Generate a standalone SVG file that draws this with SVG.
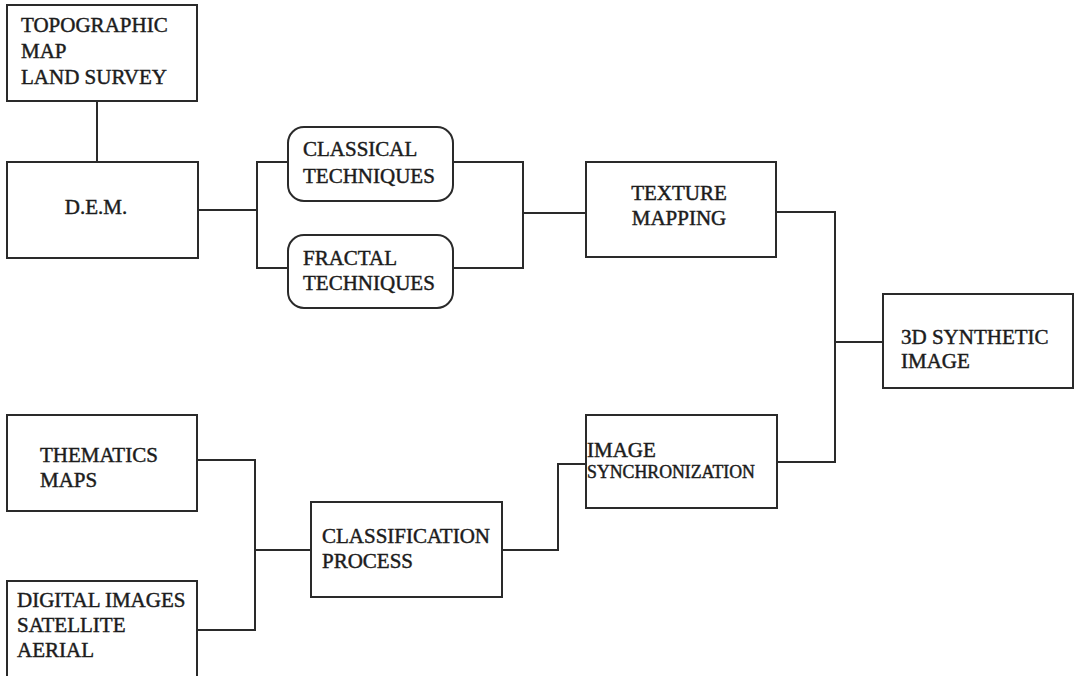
<svg xmlns="http://www.w3.org/2000/svg" width="1076" height="676" viewBox="0 0 1076 676">
<style>
.box{fill:none;stroke:#2a2a2a;stroke-width:2}
.wire{fill:none;stroke:#2a2a2a;stroke-width:2}
text{font-family:"Liberation Serif","Times New Roman",serif;font-size:21px;fill:#1c1c1c;stroke:#1c1c1c;stroke-width:0.45}
.small{font-size:17.8px}
.c{text-anchor:middle}
</style>
<rect width="1076" height="676" fill="#ffffff"/>
<g id="connectors">
<line class="wire" x1="97" y1="101" x2="97" y2="162"/>
<polyline class="wire" points="198,210 257,210"/>
<polyline class="wire" points="288,162 257,162 257,268 288,268"/>
<polyline class="wire" points="453,162 523,162 523,268 453,268"/>
<line class="wire" x1="523" y1="213" x2="586" y2="213"/>
<polyline class="wire" points="776,212 835,212 835,462 777,462"/>
<line class="wire" x1="835" y1="342" x2="883" y2="342"/>
<polyline class="wire" points="197,460 255,460 255,630 197,630"/>
<line class="wire" x1="255" y1="550" x2="311" y2="550"/>
<polyline class="wire" points="502,550 558,550 558,464 586,464"/>
</g>
<g id="topographic">
<rect class="box" x="7" y="5" width="190" height="96"/>
<text x="21" y="32">TOPOGRAPHIC</text>
<text x="21" y="58">MAP</text>
<text x="21" y="84">LAND SURVEY</text>
</g>
<g id="dem">
<rect class="box" x="7" y="162" width="191" height="96"/>
<text class="c" x="96" y="214">D.E.M.</text>
</g>
<g id="classical">
<rect class="box" x="288" y="127" width="165" height="74" rx="16" ry="16"/>
<text x="303" y="156">CLASSICAL</text>
<text x="303" y="183">TECHNIQUES</text>
</g>
<g id="fractal">
<rect class="box" x="288" y="235" width="165" height="73" rx="16" ry="16"/>
<text x="303" y="265">FRACTAL</text>
<text x="303" y="290">TECHNIQUES</text>
</g>
<g id="texture">
<rect class="box" x="586" y="162" width="190" height="95"/>
<text class="c" x="679" y="200">TEXTURE</text>
<text class="c" x="679" y="225">MAPPING</text>
</g>
<g id="synthetic">
<rect class="box" x="883" y="294" width="190" height="94"/>
<text x="901" y="344">3D SYNTHETIC</text>
<text x="901" y="368">IMAGE</text>
</g>
<g id="sync">
<rect class="box" x="586" y="415" width="191" height="93"/>
<text x="587" y="457">IMAGE</text>
<text class="small" x="587" y="478">SYNCHRONIZATION</text>
</g>
<g id="thematics">
<rect class="box" x="7" y="415" width="190" height="96"/>
<text x="40" y="462">THEMATICS</text>
<text x="40" y="487">MAPS</text>
</g>
<g id="digital">
<path class="box" d="M7,690 V581 H197 V690"/>
<text x="17" y="607">DIGITAL IMAGES</text>
<text x="17" y="632">SATELLITE</text>
<text x="17" y="657">AERIAL</text>
</g>
<g id="classification">
<rect class="box" x="311" y="502" width="191" height="95"/>
<text x="322" y="543">CLASSIFICATION</text>
<text x="322" y="568">PROCESS</text>
</g>
</svg>
